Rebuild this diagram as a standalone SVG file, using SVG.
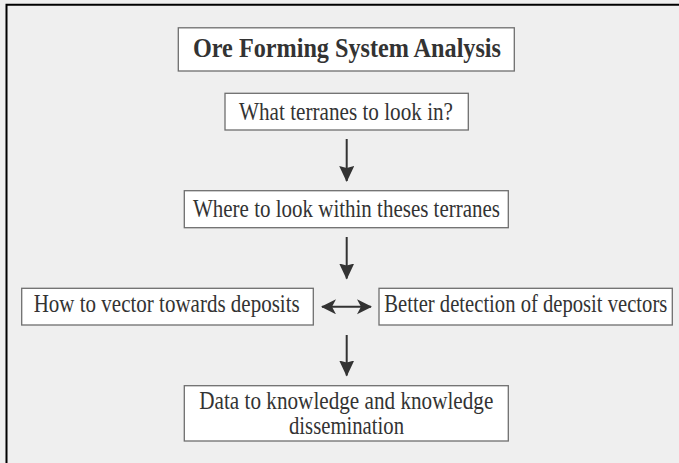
<svg xmlns="http://www.w3.org/2000/svg" width="679" height="463" viewBox="0 0 679 463">
<defs>
<style>
.box{fill:#ffffff;stroke:#6e6e6e;stroke-width:1.3}
.t{font-family:"Liberation Serif","Times New Roman",serif;font-size:25px;fill:#333333;text-anchor:middle}
.b{font-weight:bold;font-size:27px}
.conn{stroke:#333333;stroke-width:2;fill:none}
</style>
<marker id="ah" markerUnits="userSpaceOnUse" markerWidth="16" markerHeight="16" refX="15" refY="7.5" orient="auto">
<path d="M0,0 L16,7.5 L0,15 L2,7.5 Z" fill="#333333"/>
</marker>
<marker id="ah2" markerUnits="userSpaceOnUse" markerWidth="16" markerHeight="16" refX="14" refY="7.5" orient="auto-start-reverse">
<path d="M0,0 L15,7.5 L0,15 L4,7.5 Z" fill="#333333"/>
</marker>
</defs>
<rect x="0" y="0" width="679" height="463" fill="#efefef"/>
<path d="M6.5,463 V4.8 H679" fill="none" stroke="#000000" stroke-width="2"/>
<g id="title">
<rect class="box" x="178.3" y="27.8" width="336" height="43.2"/>
<text class="t b" x="347" y="56.5" textLength="308" lengthAdjust="spacingAndGlyphs">Ore Forming System Analysis</text>
</g>
<g id="what">
<rect class="box" x="225" y="93.3" width="243.3" height="36.7"/>
<text class="t" x="346" y="119.5" textLength="214" lengthAdjust="spacingAndGlyphs">What terranes to look in?</text>
</g>
<g id="where">
<rect class="box" x="184.3" y="190.7" width="324" height="37"/>
<text class="t" x="346.5" y="217.3" textLength="307" lengthAdjust="spacingAndGlyphs">Where to look within theses terranes</text>
</g>
<g id="how">
<rect class="box" x="21.7" y="288.3" width="291.6" height="36.7"/>
<text class="t" x="166.7" y="312.2" textLength="266" lengthAdjust="spacingAndGlyphs">How to vector towards deposits</text>
</g>
<g id="better">
<rect class="box" x="379" y="288.3" width="293.3" height="36.7"/>
<text class="t" x="525.8" y="312.2" textLength="283" lengthAdjust="spacingAndGlyphs">Better detection of deposit vectors</text>
</g>
<g id="data">
<rect class="box" x="184.3" y="385.7" width="324" height="55.3"/>
<text class="t" x="346.3" y="408.8" textLength="294" lengthAdjust="spacingAndGlyphs">Data to knowledge and knowledge</text>
<text class="t" x="346.5" y="434" textLength="115" lengthAdjust="spacingAndGlyphs">dissemination</text>
</g>
<g id="connectors">
<line class="conn" x1="346.7" y1="139" x2="346.7" y2="181" marker-end="url(#ah)"/>
<line class="conn" x1="346.7" y1="237" x2="346.7" y2="278.5" marker-end="url(#ah)"/>
<line class="conn" x1="346.7" y1="335" x2="346.7" y2="375.5" marker-end="url(#ah)"/>
<line class="conn" x1="322" y1="306.8" x2="371" y2="306.8" stroke-width="2.5" marker-start="url(#ah2)" marker-end="url(#ah2)"/>
</g>
</svg>
